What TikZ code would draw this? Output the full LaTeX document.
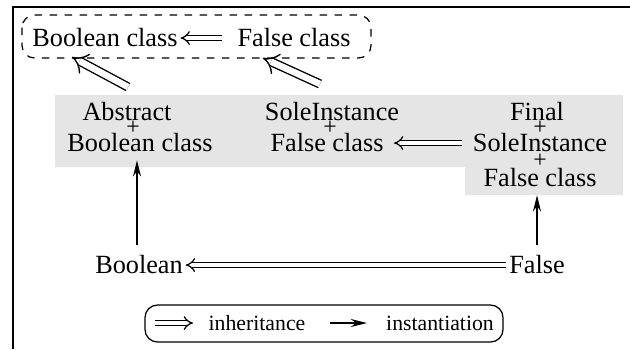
\documentclass[tikz,border=0pt]{standalone}
\usepackage{fontspec}
\setmainfont{Liberation Serif}
\usetikzlibrary{arrows.meta}
\begin{document}
\begin{tikzpicture}[x=0.4pt,y=-0.4pt,
  lbl/.style={inner sep=0pt,font=\fontsize{10.5}{12}\selectfont},
  plus/.style={inner sep=0pt,font=\fontsize{9.5}{10}\selectfont},
  inh/.style={double,double distance=1.4pt,line width=0.5pt,-{Implies}},
  inhw/.style={double,double distance=2.6pt,line width=0.55pt,-{Implies}},
  inst/.style={line width=0.6pt,-{Stealth[length=6.5pt,width=3.2pt]}},
  leg/.style={inner sep=0pt,font=\fontsize{8.7}{10}\selectfont}]
\useasboundingbox (0,0) rectangle (630,349);
\draw[line width=0.8pt] (13,349) -- (13,7) -- (630,7);
\fill[gray!20] (55,95) -- (623,95) -- (623,195) -- (465,195) -- (465,167) -- (55,167) -- cycle;
% top dashed box
\draw[dashed,rounded corners=5pt,line width=0.5pt] (22,15) rectangle (371,58);
\node[lbl] (bc) at (105,38) {Boolean class};
\node[lbl] (fc) at (294,38) {False class};
\draw[inh,shorten >=1pt,shorten <=6pt] (fc) -- (bc);
% middle row
\node[lbl] (abs1) at (127,112) {Abstract};
\node[plus] (absp) at (133,128) {+};
\node[lbl] (abs2) at (140,143) {Boolean class};
\node[lbl] (sol1) at (332,112) {SoleInstance};
\node[plus] (solp) at (330,128) {+};
\node[lbl] (sol2) at (327,143) {False class};
\node[lbl] (fin1) at (537,112) {Final};
\node[plus] (finp1) at (540,128) {+};
\node[lbl] (fin2) at (540,143) {SoleInstance};
\node[plus] (finp2) at (540,161) {+};
\node[lbl] (fin3) at (540,178) {False class};
\draw[inh,shorten >=4pt,shorten <=4pt] (fin2) -- (sol2);
% diagonal inheritance
\coordinate (d1t) at (128,87);
\coordinate (d1h) at (72,57);
\coordinate (d2t) at (320,84);
\coordinate (d2h) at (263,58);
\draw[inhw] (d1t) -- (d1h);
\draw[inhw] (d2t) -- (d2h);
% bottom row
\node[lbl] (bool) at (139,265) {Boolean};
\node[lbl] (false) at (537,265) {False};
\draw[inh,shorten >=1pt,shorten <=1pt] (false) -- (bool);
\draw[inst,shorten <=4pt,shorten >=3pt] (bool.north -| 137,0) -- (abs2.south -| 137,0);
\draw[inst,shorten <=4pt,shorten >=3pt] (false.north) -- (fin3.south -| false.north);
% legend
\draw[rounded corners=5pt,line width=0.5pt] (145,305) rectangle (503,342);
\coordinate (l1a) at (155,323);
\coordinate (l1b) at (193,323);
\coordinate (l2a) at (330,323);
\coordinate (l2b) at (367,323);
\draw[inh] (l1a) -- (l1b);
\node[leg] (linh) at (257,323) {inheritance};
\draw[inst] (l2a) -- (l2b);
\node[leg] (linst) at (440,323) {instantiation};
\end{tikzpicture}
\end{document}
